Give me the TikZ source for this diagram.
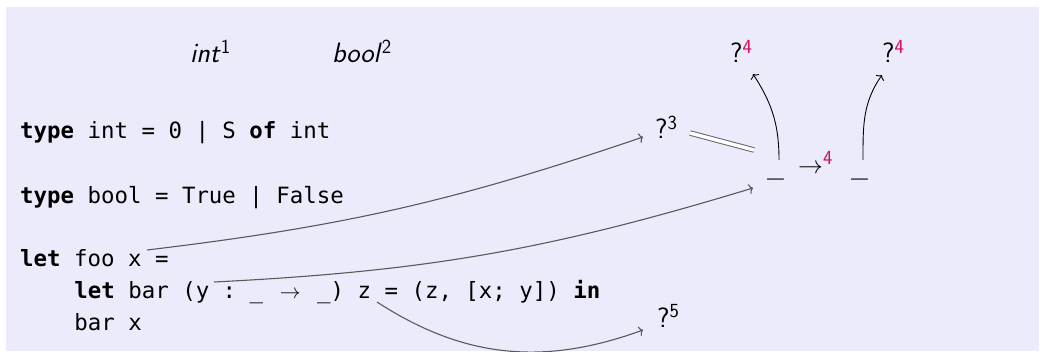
\documentclass[tikz,border=0pt]{standalone}
\usepackage{fontspec}
\usetikzlibrary{arrows.meta}
\newfontfamily\codefont{DejaVu Sans Mono}
\definecolor{slidebg}{RGB}{236,235,251}
\definecolor{alertred}{RGB}{208,16,90}
\newcommand{\kw}[1]{\textbf{#1}}
\newcommand{\fnto}{\makebox[1.204em]{$\to$}}
\newcommand{\tysup}[1]{\textsuperscript{\fontsize{20}{24}\selectfont #1}}

\begin{document}
\begin{tikzpicture}[x=1pt,y=1pt]
    % Styles for code lines, type labels and links
    \tikzset{code/.style={anchor=base west, inner sep=0pt,
             font=\codefont\fontsize{22.4}{27}\selectfont\frenchspacing}}
    \tikzset{ty/.style={anchor=base west, inner sep=0pt, font=\sffamily\fontsize{28}{34}\selectfont}}
    \tikzstyle{link} = [-{To[length=4pt,width=10pt]}, black!65, line width=1.1pt]
    \tikzstyle{uplink} = [-{To[length=4pt,width=10pt]}, black, line width=0.9pt]
    \tikzstyle{unify} = [double=white, double distance=3.5pt, black!60, line width=1pt]

    \useasboundingbox (0,0) rectangle (1040,351);
    \clip (0,0) rectangle (1040,351);
    \fill[slidebg] (6,0) rectangle (1039,344);

    % Program text
    \node (l1) [code] at (20,212) {\kw{type} int = 0 | S \kw{of} int};
    \node (l2) [code] at (20,148) {\kw{type} bool = True | False};
    \node (l3) [code] at (20,85) {\kw{let} foo x =};
    \node (l4) [code] at (74.2,53) {\kw{let} bar (y : \_ \fnto{} \_) z = (z, [x; y]) \kw{in}};
    \node (l5) [code] at (74.2,21) {bar x};

    % Where the links leave the program
    \coordinate (xvar) at (147,101);
    \coordinate (yvar) at (214,69);
    \coordinate (zvar) at (377,49);

    % Types
    \node (tint) [ty] at (190,288) {\textit{int}\tysup{1}};
    \node (tbool) [ty] at (332,288) {\textit{bool}\tysup{2}};
    \node (q4a) [ty] at (730,288) {?\tysup{\color{alertred}4}};
    \node (q4b) [ty] at (882,288) {?\tysup{\color{alertred}4}};
    \node (q3) [ty] at (655,212) {?\tysup{3}};
    \node (q5) [ty] at (657,24) {?\tysup{5}};
    \node (u1) [ty] at (767,177) {\codefont\_};
    \node (fn) [ty] at (798,177) {$\to$\tysup{\color{alertred}4}};
    \node (u2) [ty] at (851,177) {\codefont\_};

    % Links
    \draw [link] (xvar) to[bend right=6] ([shift={(-12,2)}]q3.base west);
    \draw [link] (yvar) to[bend right=7] ([shift={(-14,-14)}]u1.base west);
    \draw [link] (zvar) to[out=-33,in=200] ([shift={(-14,-3)}]q5.base west);
    \draw [uplink] ([shift={(12,14)}]u1.base west) to[out=90,in=-57] ([shift={(23,-11)}]q4a.base west);
    \draw [uplink] ([shift={(12,14)}]u2.base west) to[out=90,in=-125] ([shift={(0,-12)}]q4b.base west);
    \draw [unify] ([shift={(35,6)}]q3.base west) -- ([shift={(-13,24)}]u1.base west);

\end{tikzpicture}
\end{document}
